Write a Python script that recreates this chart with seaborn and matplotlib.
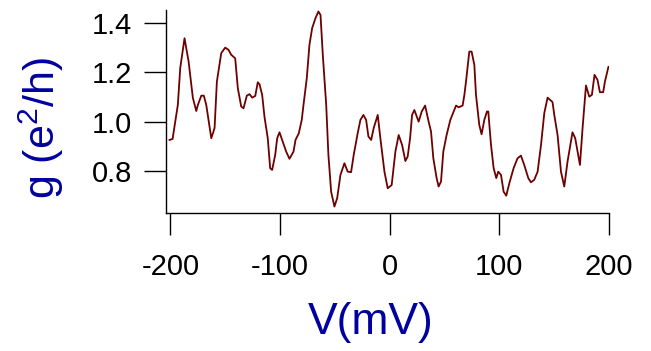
import matplotlib
matplotlib.use("Agg")
import matplotlib.pyplot as plt
import seaborn as sns
import pandas as pd

# Bias voltage (mV) and conductance g (e^2/h)
voltage = [-201.0, -198.0, -193.2, -191.0, -187.1, -183.4, -179.5, -176.4, -174.9, -171.8,
           -169.5, -167.3, -162.7, -159.7, -157.6, -153.6, -150.0, -147.0, -144.5, -140.9,
           -138.5, -135.4, -133.3, -130.3, -127.8, -125.4, -122.6, -120.3, -118.7, -116.3,
           -114.2, -111.2, -109.0, -107.2, -104.4, -102.6, -100.5, -97.5, -94.4, -91.4,
           -87.7, -85.9, -82.9, -80.2, -78.6, -75.6, -73.2, -70.7, -67.7, -65.0,
           -63.1, -61.0, -57.9, -55.9, -53.4, -50.4, -47.9, -44.9, -41.3, -38.3,
           -35.2, -32.8, -29.2, -26.7, -24.0, -21.5, -19.4, -16.9, -14.6, -10.9,
           -8.5, -4.8, -1.8, 1.8, 5.2, 8.2, 11.3, 14.3, 16.4, 18.6,
           20.4, 22.5, 26.4, 29.2, 32.3, 35.5, 37.7, 39.8, 42.8, 44.6,
           46.8, 48.9, 51.9, 55.3, 60.5, 62.9, 66.5, 68.1, 69.6, 72.6,
           74.7, 77.2, 78.7, 81.7, 83.8, 86.3, 88.7, 89.9, 92.4, 94.8,
           97.2, 99.0, 101.5, 103.9, 106.3, 109.1, 113.0, 116.6, 119.7, 122.7,
           126.4, 128.8, 131.8, 134.9, 138.0, 141.0, 144.0, 148.5, 150.1, 153.1,
           156.2, 159.2, 162.2, 166.7, 169.2, 173.5, 175.9, 179.0, 182.0, 184.4,
           186.8, 189.5, 191.7, 194.7, 196.3, 199.5]
conductance = [0.927, 0.931, 1.069, 1.218, 1.338, 1.244, 1.097, 1.044, 1.069, 1.106,
               1.106, 1.069, 0.934, 0.975, 1.163, 1.278, 1.300, 1.291, 1.271, 1.257,
               1.136, 1.062, 1.055, 1.106, 1.112, 1.098, 1.105, 1.160, 1.152, 1.109,
               1.021, 0.934, 0.813, 0.806, 0.867, 0.934, 0.958, 0.920, 0.880, 0.851,
               0.880, 0.927, 0.954, 1.008, 1.069, 1.177, 1.311, 1.379, 1.419, 1.446,
               1.432, 1.271, 1.069, 0.867, 0.718, 0.658, 0.692, 0.786, 0.833, 0.799,
               0.797, 0.867, 0.954, 1.008, 1.028, 1.008, 0.941, 0.927, 0.975, 1.028,
               0.934, 0.799, 0.732, 0.745, 0.880, 0.947, 0.907, 0.842, 0.860, 0.934,
               1.028, 1.048, 1.001, 1.042, 1.066, 1.001, 0.961, 0.853, 0.773, 0.739,
               0.759, 0.880, 0.947, 1.008, 1.066, 1.059, 1.066, 1.109, 1.163, 1.284,
               1.284, 1.230, 1.109, 0.988, 0.950, 1.008, 1.042, 1.042, 0.907, 0.813,
               0.773, 0.799, 0.786, 0.718, 0.702, 0.752, 0.813, 0.853, 0.864, 0.826,
               0.773, 0.756, 0.766, 0.799, 0.907, 1.036, 1.098, 1.080, 1.028, 0.947,
               0.799, 0.739, 0.840, 0.958, 0.934, 0.826, 0.975, 1.147, 1.102, 1.109,
               1.190, 1.170, 1.120, 1.120, 1.163, 1.223]

x_ticks = [-200, -100, 0, 100, 200]
y_ticks = [0.8, 1.0, 1.2, 1.4]
y_tick_labels = ["0.8", "1.0", "1.2", "1.4"]

sns.set_theme(style="ticks")
plt.rcParams["font.family"] = ["Liberation Sans", "DejaVu Sans"]
plt.rcParams["mathtext.default"] = "regular"

df = pd.DataFrame({"V": voltage, "g": conductance})

fig = plt.figure(figsize=(6.51, 3.51), dpi=100)
ax = fig.add_axes([166 / 651, 1 - 213 / 351, 443 / 651, 203 / 351])

sns.lineplot(data=df, x="V", y="g", ax=ax, color="#6e0000", linewidth=1.3, sort=False)

ax.set_xlim(-204, 200)
ax.set_ylim(0.632, 1.452)
ax.set_xticks(x_ticks)
ax.set_xticklabels([str(t) for t in x_ticks])
ax.set_yticks(y_ticks)
ax.set_yticklabels(y_tick_labels)

for s in ["top", "right"]:
    ax.spines[s].set_visible(False)
for s in ["left", "bottom"]:
    ax.spines[s].set_linewidth(1.0)
    ax.spines[s].set_color("black")

ax.tick_params(axis="both", direction="out", length=15.5, width=1.0, colors="black",
               labelsize=21)
ax.tick_params(axis="x", pad=13)
ax.tick_params(axis="y", pad=9)

blue = "#0000a0"
ax.set_xlabel("V(mV)", fontsize=32, color=blue)
ax.set_ylabel("g (e$^2$/h)", fontsize=31, color=blue)
ax.xaxis.set_label_coords(0.463, -0.44)
ax.yaxis.set_label_coords(-0.226, 0.419)

fig.savefig("out.png", dpi=100)
